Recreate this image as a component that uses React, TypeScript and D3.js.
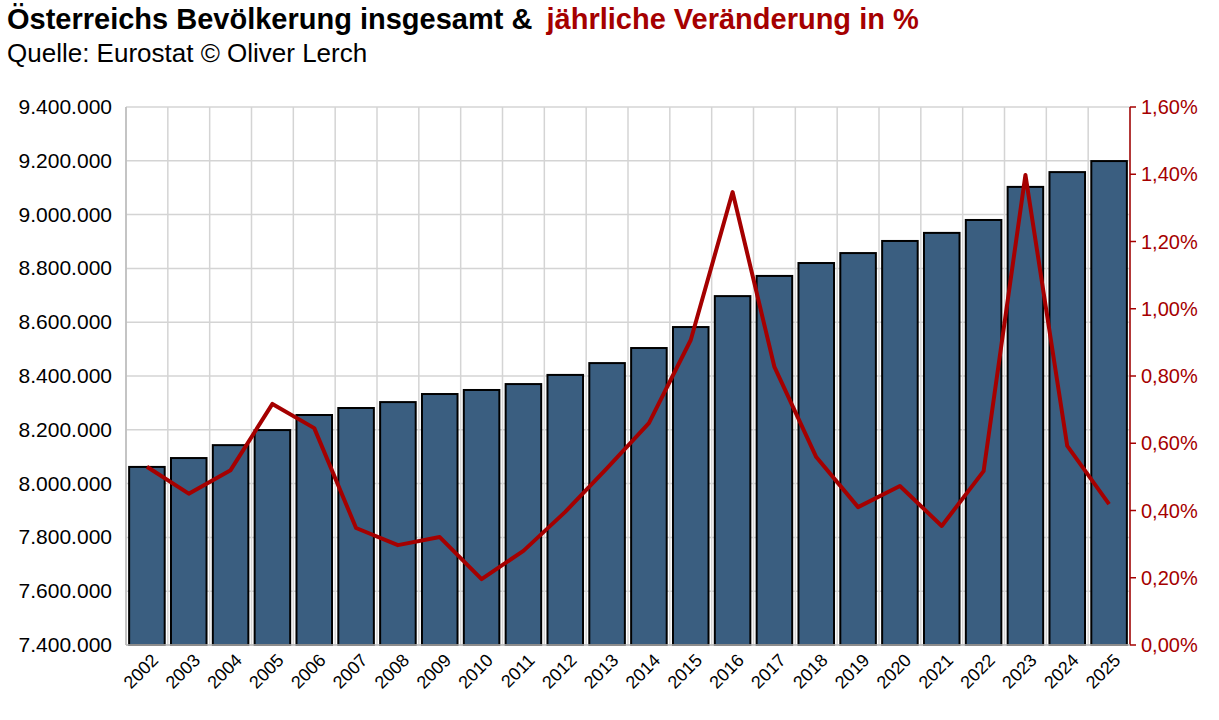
import * as d3 from 'd3';
import React from 'react';

const years = ['2002','2003','2004','2005','2006','2007','2008','2009','2010','2011','2012','2013','2014','2015','2016','2017','2018','2019','2020','2021','2022','2023','2024','2025'];
const population = [8062000, 8095000, 8143000, 8199000, 8255000, 8281000, 8303000, 8333000, 8348000, 8370000, 8404000, 8448000, 8504000, 8582000, 8697000, 8772000, 8820000, 8857000, 8902000, 8932000, 8980000, 9103000, 9158000, 9199000];
const changePct = [0.53, 0.45, 0.52, 0.717, 0.645, 0.348, 0.297, 0.321, 0.196, 0.28, 0.396, 0.526, 0.66, 0.907, 1.347, 0.827, 0.559, 0.41, 0.473, 0.354, 0.517, 1.398, 0.592, 0.419];

const W = 1219, H = 720;
const m = { left: 126, right: 1130, top: 107, bottom: 645 };
const RED = '#a50000';
const BAR = '#3a5e80';
const FONT = '"Liberation Sans", Arial, sans-serif';

export default function App() {
  const x = d3.scaleBand<string>().domain(years).range([m.left, m.right]).paddingInner(0.15).paddingOuter(0.075);
  const step = x.step();
  const yL = d3.scaleLinear().domain([7400000, 9400000]).range([m.bottom, m.top]);
  const yR = d3.scaleLinear().domain([0, 1.6]).range([m.bottom, m.top]);
  const leftTicks = d3.range(7400000, 9400001, 200000);
  const rightTicks = d3.range(0, 1.6001, 0.2);
  const fmtL = (v: number) => d3.format(',')(v).replace(/,/g, '.');
  const fmtR = (v: number) => v.toFixed(2).replace('.', ',') + '%';
  const line = d3.line<number>().x((_, i) => x(years[i])! + x.bandwidth() / 2).y((d) => yR(d));
  const edges = d3.range(years.length + 1).map((i) => m.left + i * step);

  return (
    <svg width={W} height={H} style={{ position: 'absolute', left: 0, top: 0, background: '#fff', fontFamily: FONT }}>
      <text x={7} y={29} fontSize={29} fontWeight="bold" fill="#000">Österreichs Bevölkerung insgesamt &amp; <tspan fill={RED} dx={6}>jährliche Veränderung in %</tspan></text>
      <text x={7} y={62} fontSize={26} fill="#000">Quelle: Eurostat © Oliver Lerch</text>
      {leftTicks.map((t) => (
        <line key={'h' + t} x1={m.left} x2={m.right} y1={yL(t)} y2={yL(t)} stroke="#d4d4d4" strokeWidth={1.5} />
      ))}
      {edges.map((e, i) => (
        <line key={'v' + i} x1={e} x2={e} y1={m.top} y2={m.bottom} stroke="#d4d4d4" strokeWidth={1.5} />
      ))}
      {population.map((v, i) => (
        <rect key={years[i]} x={x(years[i])} y={yL(v)} width={x.bandwidth()} height={m.bottom - yL(v)} fill={BAR} stroke="#000" strokeWidth={2} />
      ))}
      <line x1={m.left} x2={m.left} y1={m.top} y2={m.bottom} stroke="#bbb" strokeWidth={1.5} />
      <line x1={m.right} x2={m.right} y1={m.top} y2={m.bottom} stroke={RED} strokeWidth={1.5} />
      <line x1={m.left} x2={m.right} y1={m.bottom} y2={m.bottom} stroke="#bbb" strokeWidth={1.5} />
      {rightTicks.map((t) => (
        <line key={'rt' + t} x1={m.right} x2={m.right + 6} y1={yR(t)} y2={yR(t)} stroke={RED} strokeWidth={1.5} />
      ))}
      <path d={line(changePct)!} fill="none" stroke={RED} strokeWidth={4} strokeLinejoin="round" />
      {leftTicks.map((t) => (
        <text key={'l' + t} x={112} y={yL(t) + 7} fontSize={21} textAnchor="end" fill="#000">{fmtL(t)}</text>
      ))}
      {rightTicks.map((t) => (
        <text key={'r' + t} x={1141} y={yR(t) + 7} fontSize={20} fill={RED}>{fmtR(t)}</text>
      ))}
      {years.map((yr) => {
        const cx = x(yr)! + x.bandwidth() / 2 + 8;
        return (
          <text key={'x' + yr} transform={`translate(${cx},${m.bottom + 12}) rotate(-45)`} fontSize={18} textAnchor="end" dy="0.35em" fill="#000">{yr}</text>
        );
      })}
    </svg>
  );
}
